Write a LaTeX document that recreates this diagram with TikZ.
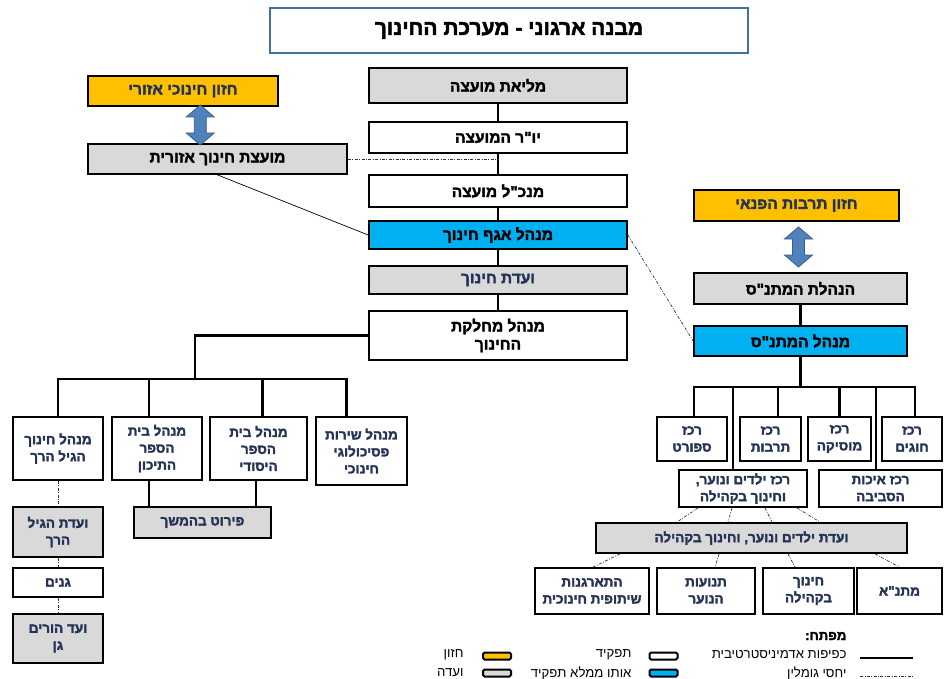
\documentclass[tikz,border=0pt]{standalone}
\usepackage{fontspec}
\newfontfamily\hebfont[Script=Hebrew]{Liberation Sans}
\newfontfamily\hebbold[Script=Hebrew, FakeBold=2.2]{Liberation Sans Bold}
\usetikzlibrary{calc}
\TeXXeTstate=1
\newcommand{\heb}[1]{\beginR #1\endR}
\definecolor{boxgray}{HTML}{D9D9D9}
\definecolor{visionorange}{HTML}{FFC000}
\definecolor{actingblue}{HTML}{00B0F0}
\definecolor{navy}{RGB}{35,50,85}
\definecolor{titleblue}{RGB}{65,113,156}
\definecolor{arrowblue}{HTML}{4F81BD}
\definecolor{arrowedge}{HTML}{385D8A}

\begin{document}
\begin{tikzpicture}[x=1pt,y=-1pt,
  box/.style={draw, line width=1.8pt, align=center, inner sep=1pt,
    font=\hebbold\fontsize{15.5}{18}\selectfont},
  role/.style={box, fill=white},
  committee/.style={box, fill=boxgray},
  vision/.style={box, fill=visionorange, text=navy},
  acting/.style={box, fill=actingblue},
  unitbox/.style={font=\hebbold\fontsize{13.5}{17}\selectfont, text=navy},
  link/.style={line width=2.2pt},
  liaison/.style={line width=0.7pt},
  peer/.style={line width=0.7pt, draw=black!80, dash pattern=on 3pt off 1.5pt on 0.8pt off 1.5pt},
  bigarrow/.style={fill=arrowblue, draw=arrowedge, line width=0.8pt},
  swatch/.style={draw, line width=2pt, rounded corners=1.5pt, minimum width=28, minimum height=7, inner sep=0pt},
  keytext/.style={anchor=east, font=\hebfont\fontsize{13.2}{15}\selectfont}]
\useasboundingbox[fill=white] (0,0) rectangle (944,679);

% title
\node[draw=titleblue, line width=1.6pt, minimum width=478, minimum height=45,
  font=\hebbold\fontsize{21}{24}\selectfont] (title) at (509,30.5) {\heb{מבנה ארגוני - מערכת החינוך}};

% main column
\node[committee, minimum width=258, minimum height=35] (plenary) at (498,85.5) {\heb{מליאת מועצה}};
\node[role, minimum width=258, minimum height=31] (chair) at (498,137.5) {\heb{יו"ר המועצה}};
\node[role, minimum width=258, minimum height=32] (ceo) at (498,191) {\heb{מנכ"ל מועצה}};
\node[acting, minimum width=258, minimum height=28] (eduhead) at (498,235) {\heb{מנהל אגף חינוך}};
\node[committee, text=navy, minimum width=258, minimum height=28] (educomm) at (498,280) {\heb{ועדת חינוך}};
\node[role, minimum width=258, minimum height=49] (edudept) at (498,335.5) {\heb{מנהל מחלקת}\\\heb{החינוך}};
\draw[link] (plenary) -- (chair);
\draw[link] (chair) -- (ceo);
\draw[link] (ceo) -- (eduhead);
\draw[link] (eduhead) -- (educomm);
\draw[link] (educomm) -- (edudept);

% regional
\node[vision, minimum width=190, minimum height=30] (regvision) at (183,91) {\heb{חזון חינוכי אזורי}};
\node[committee, minimum width=259, minimum height=30] (regcouncil) at (217.5,159) {\heb{מועצת חינוך אזורית}};
\coordinate (regarrow) at ($(regvision.south)!0.5!(regcouncil.north)$);
\draw[bigarrow] ([shift={(0,-20)}]regarrow) -- ++(14,12) -- ++(-8,0) -- ++(0,16) -- ++(8,0) -- ++(-14,12)
  -- ++(-14,-12) -- ++(8,0) -- ++(0,-16) -- ++(-8,0) -- cycle;
\draw[peer] (regcouncil.east) -- (regcouncil.east -| chair.south);
\draw[liaison] (regcouncil.south) -- (eduhead.west);

% schools
\node[role, unitbox, minimum width=90, minimum height=63] (kinder) at (58,448.5) {\heb{מנהל חינוך}\\\heb{הגיל הרך}};
\node[role, unitbox, minimum width=90, minimum height=63] (high) at (157,448.5) {\heb{מנהל בית}\\\heb{הספר}\\\heb{התיכון}};
\node[role, unitbox, minimum width=97, minimum height=63] (primary) at (258.5,448.5) {\heb{מנהל בית}\\\heb{הספר}\\\heb{היסודי}};
\node[role, unitbox, minimum width=91, minimum height=68] (psych) at (361.5,451) {\heb{מנהל שירות}\\\heb{פסיכולוגי}\\\heb{חינוכי}};
\coordinate (lbus) at (195,379);
\draw[link] (edudept.west) -| (lbus);
\foreach \n/\dx in {kinder/0, high/-8, primary/4, psych/-15}
  \draw[link] ([xshift=\dx]\n.north) |- (lbus);

\node[committee, unitbox, minimum width=137, minimum height=31] (details) at (202.5,522.5) {\heb{פירוט בהמשך}};
\draw[link] ([xshift=-8]high.south) -- ([xshift=-8]high.south |- details.north);
\draw[link] ([xshift=-2.5]primary.south) -- ([xshift=-2.5]primary.south |- details.north);

\node[committee, unitbox, minimum width=90, minimum height=50] (kindercomm) at (58,532) {\heb{ועדת הגיל}\\\heb{הרך}};
\node[role, unitbox, minimum width=90, minimum height=29] (gardens) at (58,582.5) {\heb{גנים}};
\node[committee, unitbox, minimum width=90, minimum height=49] (parents) at (58,638.5) {\heb{ועד הורים}\\\heb{גן}};
\draw[peer] (kinder) -- (kindercomm);
\draw[peer] (kindercomm) -- (gardens);
\draw[peer] (gardens) -- (parents);

% community centre
\node[vision, minimum width=205, minimum height=31] (leisure) at (796.5,205.5) {\heb{חזון תרבות הפנאי}};
\node[committee, minimum width=213, minimum height=31] (board) at (800.5,288.5) {\heb{הנהלת המתנ"ס}};
\node[acting, minimum width=213, minimum height=30] (director) at (800.5,341) {\heb{מנהל המתנ"ס}};
\coordinate (leisarrow) at ($(leisure.south)!0.5!(board.north)$);
\draw[bigarrow] ([shift={(0,-20)}]leisarrow) -- ++(14,12) -- ++(-8,0) -- ++(0,16) -- ++(8,0) -- ++(-14,12)
  -- ++(-14,-12) -- ++(8,0) -- ++(0,-16) -- ++(-8,0) -- cycle;
\draw[link] (board) -- (director);
\draw[peer] (eduhead.east) -- (director.west);

\node[role, unitbox, minimum width=70, minimum height=44] (sport) at (692,439) {\heb{רכז}\\\heb{ספורט}};
\node[role, unitbox, minimum width=61, minimum height=44] (culture) at (770.5,439) {\heb{רכז}\\\heb{תרבות}};
\node[role, unitbox, minimum width=63, minimum height=44] (music) at (839.5,439) {\heb{רכז}\\\heb{מוסיקה}};
\node[role, unitbox, minimum width=60, minimum height=44] (hobbies) at (912,439) {\heb{רכז}\\\heb{חוגים}};
\node[role, unitbox, minimum width=128, minimum height=37] (youth) at (743,488.5) {\heb{רכז ילדים ונוער,}\\\heb{וחינוך בקהילה}};
\node[role, unitbox, minimum width=123, minimum height=37] (environ) at (880.5,488.5) {\heb{רכז איכות}\\\heb{הסביבה}};
\coordinate (rbus) at (800.5,387);
\draw[link] (director) -- (rbus);
\foreach \n/\dx in {sport/2, culture/7.5, music/0, hobbies/3, youth/-10, environ/-4.5}
  \draw[link] ([xshift=\dx]\n.north) |- (rbus);

\node[committee, unitbox, minimum width=311, minimum height=30] (youthcomm) at (751.5,538) {\heb{ועדת ילדים ונוער, וחינוך בקהילה}};
\foreach \a/\b in {-45/-74.5, -11/-23.5, 22/20.5, 54/68.5}
  \draw[peer] ([xshift=\a]youth.south) -- ([xshift=\b]youthcomm.north);

\node[role, unitbox, minimum width=114, minimum height=46] (coop) at (592,591) {\heb{התארגנות}\\\heb{שיתופית חינוכית}};
\node[role, unitbox, minimum width=98, minimum height=46] (movements) at (706,591) {\heb{תנועות}\\\heb{הנוער}};
\node[role, unitbox, minimum width=91, minimum height=46] (community) at (808.5,591) {\heb{חינוך}\\\heb{בקהילה}};
\node[role, unitbox, minimum width=85, minimum height=46] (matnas) at (899.5,591) {\heb{מתנ"א}};
\foreach \a/\n/\b in {-131.5/coop/1, -32.5/movements/9, 36.5/community/-13.5, 123.5/matnas/0}
  \draw[peer] ([xshift=\a]youthcomm.south) -- ([xshift=\b]\n.north);

% legend
\node[keytext, font=\hebbold\fontsize{13.2}{15}\selectfont] (keyhead) at (850,636) {\heb{מפתח:}};
\node[keytext] (keyadmin) at (850,655) {\heb{כפיפות אדמיניסטרטיבית}};
\node[keytext] (keypeer) at (850,673) {\heb{יחסי גומלין}};
\coordinate (ka1) at (860,658);
\coordinate (ka2) at (913,658);
\coordinate (kp1) at (860,676);
\coordinate (kp2) at (913,676);
\draw[link] (ka1) -- (ka2);
\draw[peer] (kp1) -- (kp2);
\node[swatch, fill=white] (swrole) at (663.5,656) {};
\node[swatch, fill=actingblue] (swacting) at (663.5,673) {};
\node[keytext] (keyrole) at (635,655) {\heb{תפקיד}};
\node[keytext] (keyacting) at (635,673) {\heb{אותו ממלא תפקיד}};
\node[swatch, fill=visionorange] (swvision) at (497,656) {};
\node[swatch, fill=boxgray] (swcomm) at (497,673) {};
\node[keytext] (keyvision) at (467,655) {\heb{חזון}};
\node[keytext] (keycomm) at (467,673) {\heb{ועדה}};
\end{tikzpicture}
\end{document}
